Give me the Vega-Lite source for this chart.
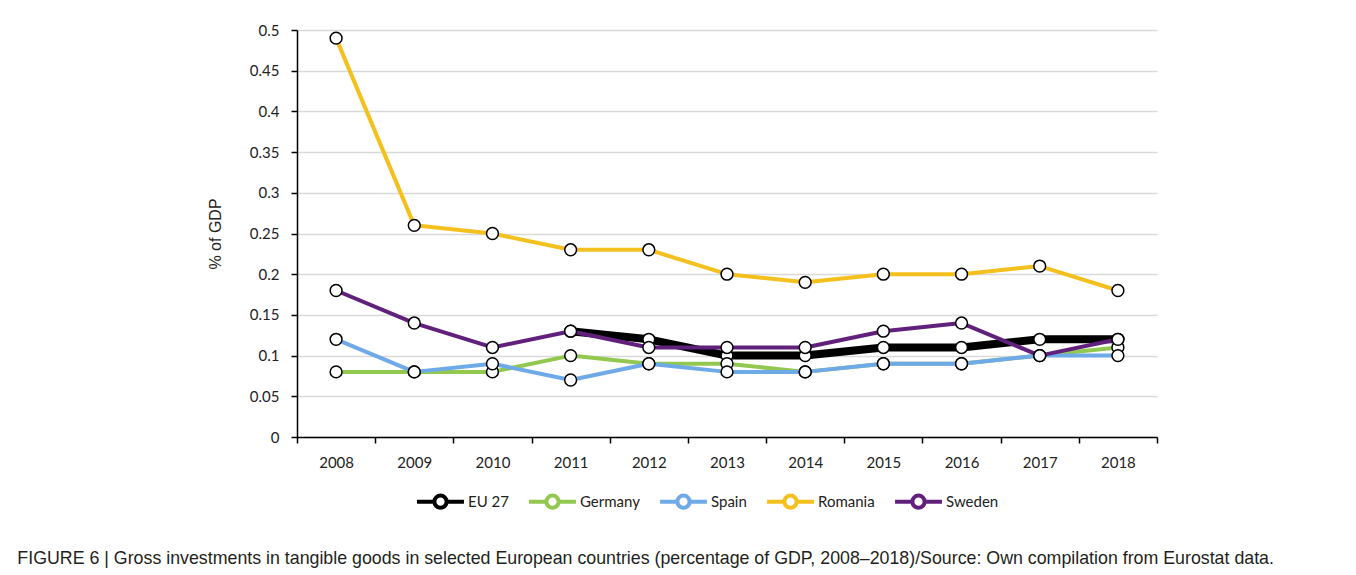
{
  "$schema": "https://vega.github.io/schema/vega-lite/v6.json",
  "width": 860,
  "height": 407,
  "padding": {"left": 17, "top": 23, "right": 10, "bottom": 5},
  "background": "white",
  "title": {
    "text": "FIGURE 6 | Gross investments in tangible goods in selected European countries (percentage of GDP, 2008–2018)/Source: Own compilation from Eurostat data.",
    "orient": "bottom",
    "anchor": "start",
    "frame": "bounds",
    "dx": -190,
    "offset": 34,
    "font": "Liberation Sans",
    "fontSize": 17.8,
    "fontWeight": "normal",
    "color": "#231f20"
  },
  "config": {
    "view": {"stroke": null},
    "axis": {"labelFont": "Lato", "labelFontSize": 15, "labelColor": "#222", "titleFont": "Liberation Sans", "titleFontWeight": "normal"}
  },
  "data": {
    "values": [
      {"year": "2011", "series": "EU 27", "value": 0.13},
      {"year": "2012", "series": "EU 27", "value": 0.12},
      {"year": "2013", "series": "EU 27", "value": 0.10},
      {"year": "2014", "series": "EU 27", "value": 0.10},
      {"year": "2015", "series": "EU 27", "value": 0.11},
      {"year": "2016", "series": "EU 27", "value": 0.11},
      {"year": "2017", "series": "EU 27", "value": 0.12},
      {"year": "2018", "series": "EU 27", "value": 0.12},
      {"year": "2008", "series": "Germany", "value": 0.08},
      {"year": "2009", "series": "Germany", "value": 0.08},
      {"year": "2010", "series": "Germany", "value": 0.08},
      {"year": "2011", "series": "Germany", "value": 0.10},
      {"year": "2012", "series": "Germany", "value": 0.09},
      {"year": "2013", "series": "Germany", "value": 0.09},
      {"year": "2014", "series": "Germany", "value": 0.08},
      {"year": "2015", "series": "Germany", "value": 0.09},
      {"year": "2016", "series": "Germany", "value": 0.09},
      {"year": "2017", "series": "Germany", "value": 0.10},
      {"year": "2018", "series": "Germany", "value": 0.11},
      {"year": "2008", "series": "Spain", "value": 0.12},
      {"year": "2009", "series": "Spain", "value": 0.08},
      {"year": "2010", "series": "Spain", "value": 0.09},
      {"year": "2011", "series": "Spain", "value": 0.07},
      {"year": "2012", "series": "Spain", "value": 0.09},
      {"year": "2013", "series": "Spain", "value": 0.08},
      {"year": "2014", "series": "Spain", "value": 0.08},
      {"year": "2015", "series": "Spain", "value": 0.09},
      {"year": "2016", "series": "Spain", "value": 0.09},
      {"year": "2017", "series": "Spain", "value": 0.10},
      {"year": "2018", "series": "Spain", "value": 0.10},
      {"year": "2008", "series": "Romania", "value": 0.49},
      {"year": "2009", "series": "Romania", "value": 0.26},
      {"year": "2010", "series": "Romania", "value": 0.25},
      {"year": "2011", "series": "Romania", "value": 0.23},
      {"year": "2012", "series": "Romania", "value": 0.23},
      {"year": "2013", "series": "Romania", "value": 0.20},
      {"year": "2014", "series": "Romania", "value": 0.19},
      {"year": "2015", "series": "Romania", "value": 0.20},
      {"year": "2016", "series": "Romania", "value": 0.20},
      {"year": "2017", "series": "Romania", "value": 0.21},
      {"year": "2018", "series": "Romania", "value": 0.18},
      {"year": "2008", "series": "Sweden", "value": 0.18},
      {"year": "2009", "series": "Sweden", "value": 0.14},
      {"year": "2010", "series": "Sweden", "value": 0.11},
      {"year": "2011", "series": "Sweden", "value": 0.13},
      {"year": "2012", "series": "Sweden", "value": 0.11},
      {"year": "2013", "series": "Sweden", "value": 0.11},
      {"year": "2014", "series": "Sweden", "value": 0.11},
      {"year": "2015", "series": "Sweden", "value": 0.13},
      {"year": "2016", "series": "Sweden", "value": 0.14},
      {"year": "2017", "series": "Sweden", "value": 0.10},
      {"year": "2018", "series": "Sweden", "value": 0.12}
    ]
  },
  "encoding": {
    "x": {
      "field": "year",
      "type": "ordinal",
      "bandPosition": 0.5,
      "scale": {"type": "band", "paddingInner": 0, "paddingOuter": 0},
      "axis": {
        "title": null,
        "labelAngle": 0,
        "tickBand": "extent",
        "domainColor": "#000",
        "domainWidth": 1.5,
        "tickColor": "#000",
        "tickWidth": 1.5,
        "tickSize": 6,
        "labelPadding": 12,
        "grid": false
      }
    },
    "y": {
      "field": "value",
      "type": "quantitative",
      "scale": {"domain": [0, 0.5], "nice": false},
      "axis": {
        "title": "% of GDP",
        "titleFontSize": 16,
        "titleColor": "#222",
        "titlePadding": 26,
        "values": [0, 0.05, 0.1, 0.15, 0.2, 0.25, 0.3, 0.35, 0.4, 0.45, 0.5],
        "format": "~g",
        "domainColor": "#000",
        "domainWidth": 1.5,
        "tickColor": "#000",
        "tickWidth": 1.5,
        "tickSize": 6,
        "labelPadding": 12,
        "gridColor": "#d9d9d9",
        "gridWidth": 1.5
      }
    }
  },
  "layer": [
    {
      "mark": {"type": "line", "strokeJoin": "round"},
      "encoding": {
        "color": {
          "field": "series",
          "type": "nominal",
          "sort": ["EU 27", "Germany", "Spain", "Romania", "Sweden"],
          "scale": {
            "domain": ["EU 27", "Germany", "Spain", "Romania", "Sweden"],
            "range": ["#000000", "#92C850", "#6FAAE8", "#F4C01E", "#61207C"]
          },
          "legend": {
            "title": null,
            "orient": "none",
            "legendX": 118,
            "legendY": 446,
            "direction": "horizontal",
            "symbolType": "M-1,0L-0.26,0M0.26,0L1,0M-0.26,0A0.26,0.26 0 1,1 0.26,0A0.26,0.26 0 1,1 -0.26,0Z",
            "symbolSize": 2200,
            "symbolStrokeWidth": 4,
            "symbolFillColor": "white",
            "labelFont": "Lato",
            "labelFontSize": 15,
            "labelColor": "#222",
            "columnPadding": 12,
            "labelOffset": 2
          }
        },
        "strokeWidth": {
          "condition": {"test": "datum.series === 'EU 27'", "value": 8},
          "value": 4
        }
      }
    },
    {
      "mark": {"type": "point", "shape": "circle", "filled": true, "fill": "white", "stroke": "black", "strokeWidth": 1.5, "size": 140, "opacity": 1}
    }
  ]
}
